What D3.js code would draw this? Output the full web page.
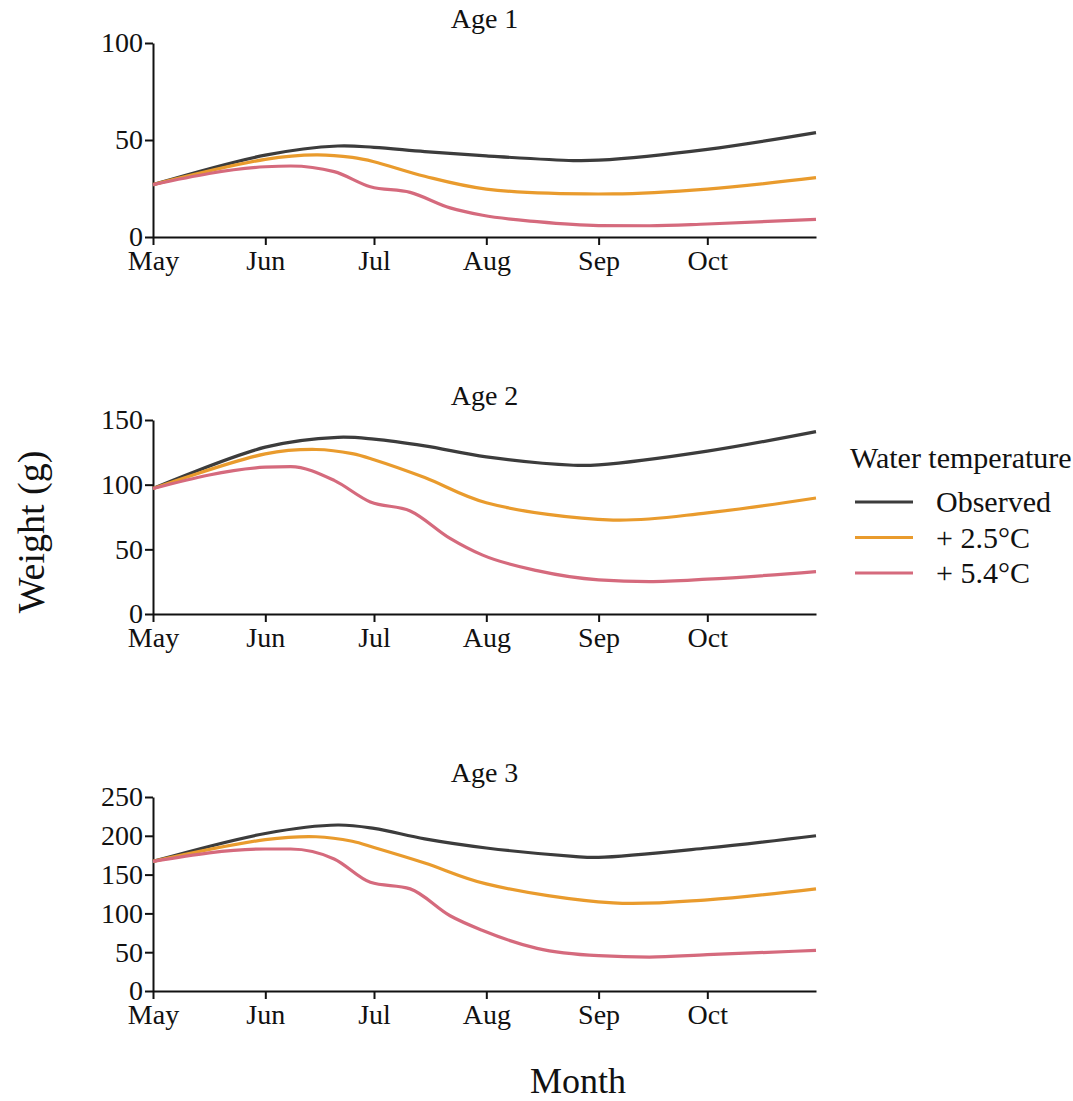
<!DOCTYPE html>
<html>
<head>
<meta charset="utf-8">
<script src="https://cdn.jsdelivr.net/npm/d3@7"></script>
<style>
  body { margin: 0; background: #fff; }
  svg text { font-family: "Liberation Serif", "DejaVu Serif", serif; fill: #111; }
</style>
</head>
<body>
<div id="chart"></div>
<script>
var W = 1073, H = 1101;

// sample dates (MM-DD) and weights per age class
var ages = ["Age 1", "Age 2", "Age 3"];
var seriesNames = ["Observed", "+ 2.5°C", "+ 5.4°C"];
var seriesColors = ["#3c3c3c", "#e99b2d", "#d56a7d"];
var yMax = [100, 150, 250];
var yTicks = [[0, 50, 100], [0, 50, 100, 150], [0, 50, 100, 150, 200, 250]];
var monthTicks = ["05-01", "06-01", "07-01", "08-01", "09-01", "10-01"];

var obsDates = ["05-01", "06-01", "06-21", "07-01", "07-15", "08-01", "08-25", "09-01", "10-01", "10-31"];
var warmDates = ["05-01", "06-01", "06-15", "06-25", "07-01", "07-15", "08-01", "09-05", "10-01", "10-31"];
var hotDates = ["05-01", "06-01", "06-08", "06-20", "06-30", "07-11", "07-22", "07-31", "08-15", "09-01", "09-15", "10-01", "10-31"];

var age1Obs  = [27, 42.2, 46.9, 46.2, 44.0, 41.8, 39.4, 39.6, 45.2, 53.8];
var age1Warm = [27, 40.0, 42.3, 41.0, 38.8, 31.3, 24.7, 22.2, 24.7, 30.6];
var age1Hot  = [27, 36.2, 36.6, 33.7, 25.9, 23.0, 15.0, 11.2, 7.9, 5.9, 5.8, 6.7, 9.1];

var age2Obs  = [97, 129, 136.6, 135.2, 130.0, 121.5, 115, 115.3, 125.9, 141];
var age2Warm = [97, 123.8, 127.2, 124.0, 119.3, 105.5, 86.0, 72.6, 78.2, 89.7];
var age2Hot  = [97, 113.5, 114, 103.3, 86.6, 79.7, 58.5, 45.5, 33.5, 26.4, 25.1, 26.9, 32.8];

var age3Obs  = [167, 203, 213.9, 209.5, 196.0, 184.3, 173.5, 172.2, 184.3, 200.1];
var age3Warm = [167, 195, 198.8, 193.0, 185.0, 165.0, 138, 113.5, 117.5, 131.6];
var age3Hot  = [167, 183, 183, 170.2, 140.1, 131.6, 97, 78, 55, 45.5, 43.7, 46.8, 52.3];

var panels = [
  [age1Obs, age1Warm, age1Hot],
  [age2Obs, age2Warm, age2Hot],
  [age3Obs, age3Warm, age3Hot]
];
var dateSets = [obsDates, warmDates, hotDates];

function toDate(md) {
  var p = md.split("-");
  return new Date(Date.UTC(2020, +p[0] - 1, +p[1]));
}

var svg = d3.select("#chart").append("svg")
  .attr("width", W).attr("height", H);

var left = 153, right = 816, plotH = 194;
var tops = [43, 420, 797];

var x = d3.scaleUtc()
  .domain([toDate("05-01"), toDate("10-31")])
  .range([left, right]);

panels.forEach(function (series, p) {
  var top = tops[p];
  var y = d3.scaleLinear().domain([0, yMax[p]]).range([top + plotH, top]);
  var g = svg.append("g");

  g.append("text")
    .attr("x", (left + right) / 2)
    .attr("y", top - 15)
    .attr("text-anchor", "middle")
    .attr("font-size", "28px")
    .text(ages[p]);

  var xAxis = g.append("g")
    .attr("transform", "translate(0," + (top + plotH) + ")")
    .call(d3.axisBottom(x)
      .tickValues(monthTicks.map(toDate))
      .tickFormat(d3.utcFormat("%b"))
      .tickSize(8).tickPadding(5).tickSizeOuter(0));

  var yAxis = g.append("g")
    .attr("transform", "translate(" + left + ",0)")
    .call(d3.axisLeft(y)
      .tickValues(yTicks[p])
      .tickSize(8).tickPadding(2).tickSizeOuter(0));

  [xAxis, yAxis].forEach(function (a) {
    a.select(".domain").attr("stroke", "#111").attr("stroke-width", 2);
    a.selectAll(".tick line").attr("stroke", "#111").attr("stroke-width", 2);
    a.selectAll(".tick text")
      .attr("font-size", "28px")
      .attr("font-family", "Liberation Serif, serif")
      .attr("fill", "#111");
  });

  series.forEach(function (vals, s) {
    var pts = vals.map(function (v, i) {
      return { date: toDate(dateSets[s][i]), v: v };
    });
    // the +5.4 run bends sharply in early July, the others stay smooth
    var line = d3.line()
      .x(function (d) { return x(d.date); })
      .y(function (d) { return y(d.v); })
      .curve(s === 2 ? d3.curveMonotoneX : d3.curveCatmullRom.alpha(0.5));
    g.append("path")
      .datum(pts)
      .attr("fill", "none")
      .attr("stroke", seriesColors[s])
      .attr("stroke-width", 3.2)
      .attr("d", line);
  });
});

// legend
var leg = svg.append("g");
leg.append("text")
  .attr("x", 850).attr("y", 468)
  .attr("font-size", "30px")
  .text("Water temperature");
seriesNames.forEach(function (name, i) {
  var ly = 502 + i * 35.5;
  leg.append("line")
    .attr("x1", 855).attr("x2", 913)
    .attr("y1", ly).attr("y2", ly)
    .attr("stroke", seriesColors[i])
    .attr("stroke-width", 3.2);
  leg.append("text")
    .attr("x", 936).attr("y", ly + 10)
    .attr("font-size", "30px")
    .text(name);
});

// axis titles
svg.append("text")
  .attr("x", 578).attr("y", 1093)
  .attr("text-anchor", "middle")
  .attr("font-size", "36px")
  .text("Month");

svg.append("text")
  .attr("transform", "translate(44,532) rotate(-90)")
  .attr("text-anchor", "middle")
  .attr("font-size", "38px")
  .text("Weight (g)");
</script>
</body>
</html>
